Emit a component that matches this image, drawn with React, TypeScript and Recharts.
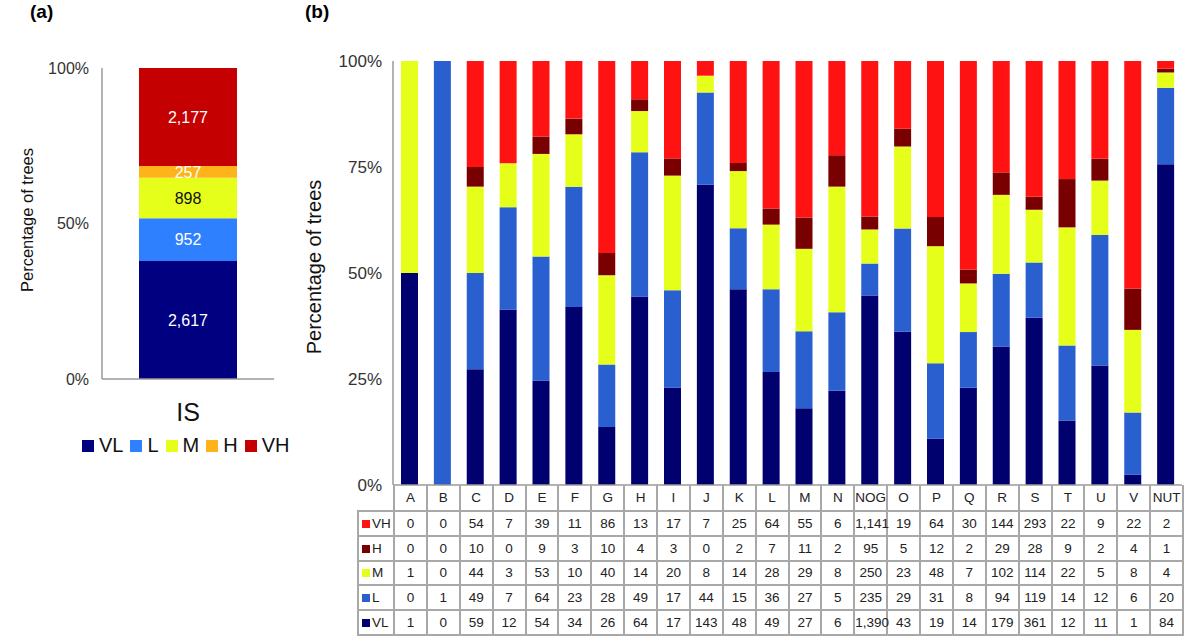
import { Bar, BarChart, LabelList, XAxis, YAxis } from 'recharts';

// panel (a): all trees, counts per class
const isClasses = ['VL', 'L', 'M', 'H', 'VH'];
const isCounts = [2617, 952, 898, 257, 2177];

// panel (b): counts per group
const categories = ['A', 'B', 'C', 'D', 'E', 'F', 'G', 'H', 'I', 'J', 'K', 'L', 'M', 'N', 'NOG', 'O', 'P', 'Q', 'R', 'S', 'T', 'U', 'V', 'NUT'];
const vhCounts = [0, 0, 54, 7, 39, 11, 86, 13, 17, 7, 25, 64, 55, 6, 1141, 19, 64, 30, 144, 293, 22, 9, 22, 2];
const hCounts = [0, 0, 10, 0, 9, 3, 10, 4, 3, 0, 2, 7, 11, 2, 95, 5, 12, 2, 29, 28, 9, 2, 4, 1];
const mCounts = [1, 0, 44, 3, 53, 10, 40, 14, 20, 8, 14, 28, 29, 8, 250, 23, 48, 7, 102, 114, 22, 5, 8, 4];
const lCounts = [0, 1, 49, 7, 64, 23, 28, 49, 17, 44, 15, 36, 27, 5, 235, 29, 31, 8, 94, 119, 14, 12, 6, 20];
const vlCounts = [1, 0, 59, 12, 54, 34, 26, 64, 17, 143, 48, 49, 27, 6, 1390, 43, 19, 14, 179, 361, 12, 11, 1, 84];

const FONT = '"Liberation Sans", Arial, Helvetica, sans-serif';
const AXIS = '#9a9a9a';

const colorsA: Record<string, string> = { VL: '#000080', L: '#2f80ff', M: '#e6ff1a', H: '#ffb31a', VH: '#c40000' };
const colorsB: Record<string, string> = { VL: '#00006e', L: '#2a5fcf', M: '#e6ff1a', H: '#780000', VH: '#ff1212' };

const isData = [Object.fromEntries([['name', 'IS'], ...isClasses.map((c, i) => [c, isCounts[i]])])];
const groupData = categories.map((name, i) => ({
  name,
  VL: vlCounts[i],
  L: lCounts[i],
  M: mCounts[i],
  H: hCounts[i],
  VH: vhCounts[i],
}));

const tableRows = [
  { key: 'VH', values: vhCounts },
  { key: 'H', values: hCounts },
  { key: 'M', values: mCounts },
  { key: 'L', values: lCounts },
  { key: 'VL', values: vlCounts },
];

const pct = (v: number) => `${Math.round(v * 100)}%`;
const fmt = (v: any) => Number(v).toLocaleString('en-US');

function RotatedLabel({ cx, cy, size, text }: { cx: number; cy: number; size: number; text: string }) {
  return (
    <div
      style={{
        position: 'absolute',
        left: cx,
        top: cy,
        transform: 'translate(-50%, -50%) rotate(-90deg)',
        whiteSpace: 'nowrap',
        fontSize: size,
        color: '#111',
      }}
    >
      {text}
    </div>
  );
}

export default function App() {
  const plotLeftB = 393;
  const plotRightB = 1182;
  const colW = (plotRightB - plotLeftB) / categories.length;
  const border = '2px solid #a8a8a8';

  return (
    <div style={{ position: 'absolute', left: 0, top: 0, width: 1200, height: 642, background: '#fff', fontFamily: FONT }}>
      <div style={{ position: 'absolute', left: 30, top: 1, fontSize: 19, fontWeight: 'bold' }}>(a)</div>
      <div style={{ position: 'absolute', left: 305, top: 1, fontSize: 19, fontWeight: 'bold' }}>(b)</div>

      {/* panel (a) */}
      <RotatedLabel cx={27} cy={220} size={16.5} text="Percentage of trees" />
      <div style={{ position: 'absolute', left: 0, top: 0 }}>
        <BarChart width={300} height={439} data={isData} stackOffset="expand" margin={{ top: 68, right: 26, left: 0, bottom: 0 }}>
          <XAxis
            dataKey="name"
            height={60}
            axisLine={{ stroke: AXIS, strokeWidth: 1.5 }}
            tickLine={false}
            tickSize={0}
            tickMargin={24}
            tick={{ fontSize: 25, fill: '#111', fontFamily: FONT }}
          />
          <YAxis
            width={102}
            domain={[0, 1]}
            ticks={[0, 0.5, 1]}
            tickFormatter={pct}
            axisLine={{ stroke: AXIS, strokeWidth: 1.5 }}
            tickLine={false}
            tickSize={0}
            tickMargin={13}
            tick={{ fontSize: 16, fill: '#333', fontFamily: FONT }}
          />
          {isClasses.map((c) => (
            <Bar key={c} dataKey={c} stackId="a" fill={colorsA[c]} barSize={98} isAnimationActive={false}>
              <LabelList
                dataKey={c}
                position="center"
                formatter={fmt}
                fill={c === 'M' ? '#111' : '#fff'}
                style={{ fontSize: 16, fontFamily: FONT }}
              />
            </Bar>
          ))}
        </BarChart>
      </div>
      <div style={{ position: 'absolute', left: 82, top: 434, display: 'flex', alignItems: 'center', fontSize: 20, color: '#111' }}>
        {isClasses.map((c) => (
          <div key={c} style={{ display: 'flex', alignItems: 'center', marginRight: 7 }}>
            <span style={{ display: 'inline-block', width: 12, height: 12, background: colorsA[c], marginRight: 5 }} />
            <span>{c}</span>
          </div>
        ))}
      </div>

      {/* panel (b) */}
      <RotatedLabel cx={314} cy={267} size={20} text="Percentage of trees" />
      <div style={{ position: 'absolute', left: 300, top: 0 }}>
        <BarChart
          width={900}
          height={500}
          data={groupData}
          stackOffset="expand"
          margin={{ top: 61, right: 1200 - 300 - 900 + (1200 - plotRightB), left: 0, bottom: 0 }}
        >
          <XAxis dataKey="name" height={15} tick={false} tickLine={false} axisLine={{ stroke: AXIS, strokeWidth: 1.5 }} />
          <YAxis
            width={plotLeftB - 300}
            domain={[0, 1]}
            ticks={[0, 0.25, 0.5, 0.75, 1]}
            tickFormatter={pct}
            axisLine={{ stroke: AXIS, strokeWidth: 1.5 }}
            tickLine={false}
            tickSize={0}
            tickMargin={11}
            tick={{ fontSize: 17, fill: '#333', fontFamily: FONT }}
          />
          {isClasses.map((c) => (
            <Bar key={c} dataKey={c} stackId="b" fill={colorsB[c]} barSize={17} isAnimationActive={false} />
          ))}
        </BarChart>
      </div>

      <table
        style={{
          position: 'absolute',
          left: 357,
          top: 485,
          borderCollapse: 'collapse',
          tableLayout: 'fixed',
          width: plotLeftB - 357 + (plotRightB - plotLeftB),
          fontSize: 13.5,
          color: '#222',
          fontFamily: FONT,
        }}
      >
        <colgroup>
          <col style={{ width: plotLeftB - 357 }} />
          {categories.map((c) => (
            <col key={c} style={{ width: colW }} />
          ))}
        </colgroup>
        <tbody>
          <tr style={{ height: 26 }}>
            <td style={{ border: 'none', padding: 0 }} />
            {categories.map((c) => (
              <td key={c} style={{ borderLeft: border, borderRight: border, borderBottom: border, borderTop: 'none', padding: 0, textAlign: 'center', whiteSpace: 'nowrap' }}>
                {c}
              </td>
            ))}
          </tr>
          {tableRows.map((row) => (
            <tr key={row.key} style={{ height: 24.8 }}>
              <td style={{ border, padding: '0 0 0 3px', whiteSpace: 'nowrap' }}>
                <span style={{ display: 'inline-block', width: 8, height: 8, background: colorsB[row.key], marginRight: 2 }} />
                {row.key}
              </td>
              {row.values.map((v, i) => (
                <td key={i} style={{ border, padding: 0, textAlign: 'center', whiteSpace: 'nowrap', overflow: 'visible' }}>
                  {fmt(v)}
                </td>
              ))}
            </tr>
          ))}
        </tbody>
      </table>
    </div>
  );
}
